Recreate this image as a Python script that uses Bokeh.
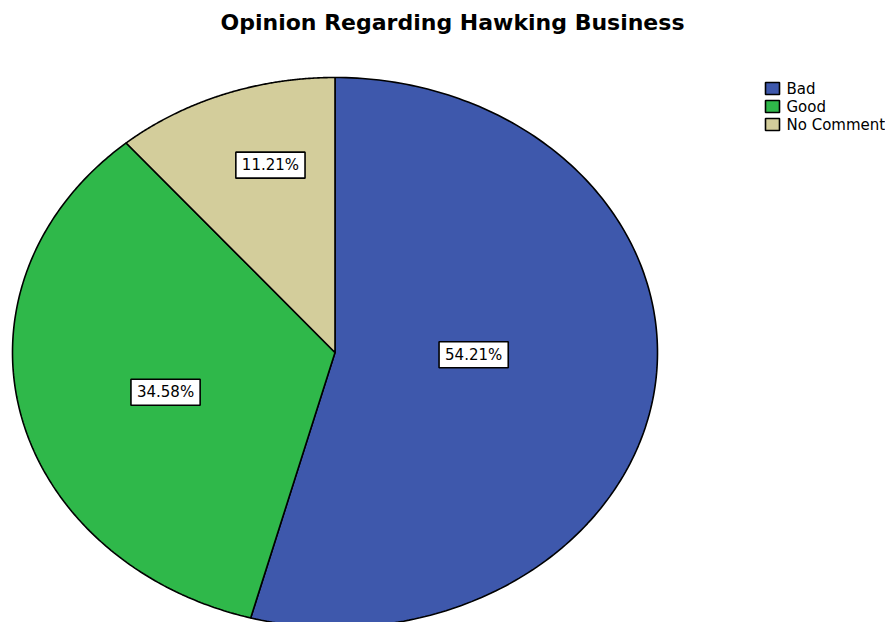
import numpy as np
from bokeh.plotting import figure
from bokeh.models import Range1d
from bokeh.core.properties import value
from bokeh.embed import file_html
from bokeh.resources import INLINE

# ---- data ----
categories = ["Bad", "Good", "No Comment"]
percents = [54.21, 34.58, 11.21]
label_texts = ["54.21%", "34.58%", "11.21%"]
title_text = "Opinion Regarding Hawking Business"

# ---- style / layout ----
colors = ["#3E58AC", "#2FB84A", "#D3CD9B"]
W, H = 885, 622
cx, cy = 334.5, 352.0
rx, ry = 322.5, 275.0
label_r = [0.43, 0.545, 0.71]
label_da = [-6.5, -2.8, 3.8]  # degrees nudge from mid-angle
FONT = "DejaVu Sans"

p = figure(width=W, height=H, output_backend="svg", toolbar_location=None,
           x_range=Range1d(0, W), y_range=Range1d(H, 0), min_border=0)
p.axis.visible = False
p.grid.visible = False
p.outline_line_color = None
p.background_fill_color = "white"
p.border_fill_color = "white"

fr = np.array(percents) / np.sum(percents)
cum = np.concatenate([[0], np.cumsum(fr)]) * 2 * np.pi
xs, ys = [], []
for i in range(len(percents)):
    th = np.linspace(cum[i], cum[i + 1], 200)
    xs.append(list(np.concatenate([[cx], cx + rx * np.sin(th)])))
    ys.append(list(np.concatenate([[cy], cy - ry * np.cos(th)])))
p.patches(xs, ys, fill_color=colors, line_color="black", line_width=1.6)

mid = (cum[:-1] + cum[1:]) / 2 + np.radians(label_da)
lx = cx + rx * np.array(label_r) * np.sin(mid)
ly = cy - ry * np.array(label_r) * np.cos(mid)
p.text(x=lx, y=ly, text=label_texts, text_align="center", text_baseline="middle",
       text_font=value(FONT), text_font_size="15px", text_color="black",
       background_fill_color="white", border_line_color="black", border_line_width=1.6,
       padding=(6, 4))

# title
p.text(x=[452], y=[22], text=[title_text], text_align="center", text_baseline="middle",
       text_font=value(FONT), text_font_size="22px", text_font_style="bold", text_color="black")

# legend
ly0 = 88
dy = 18
leg_y = [ly0 + i * dy for i in range(len(categories))]
p.rect(x=[772] * len(categories), y=leg_y, width=14, height=12, fill_color=colors,
       line_color="black", line_width=1.6)
p.text(x=[786] * len(categories), y=leg_y, text=categories, text_align="left",
       text_baseline="middle", text_font=value(FONT), text_font_size="15px", text_color="black")

open("out.html", "w").write(file_html(p, INLINE))
